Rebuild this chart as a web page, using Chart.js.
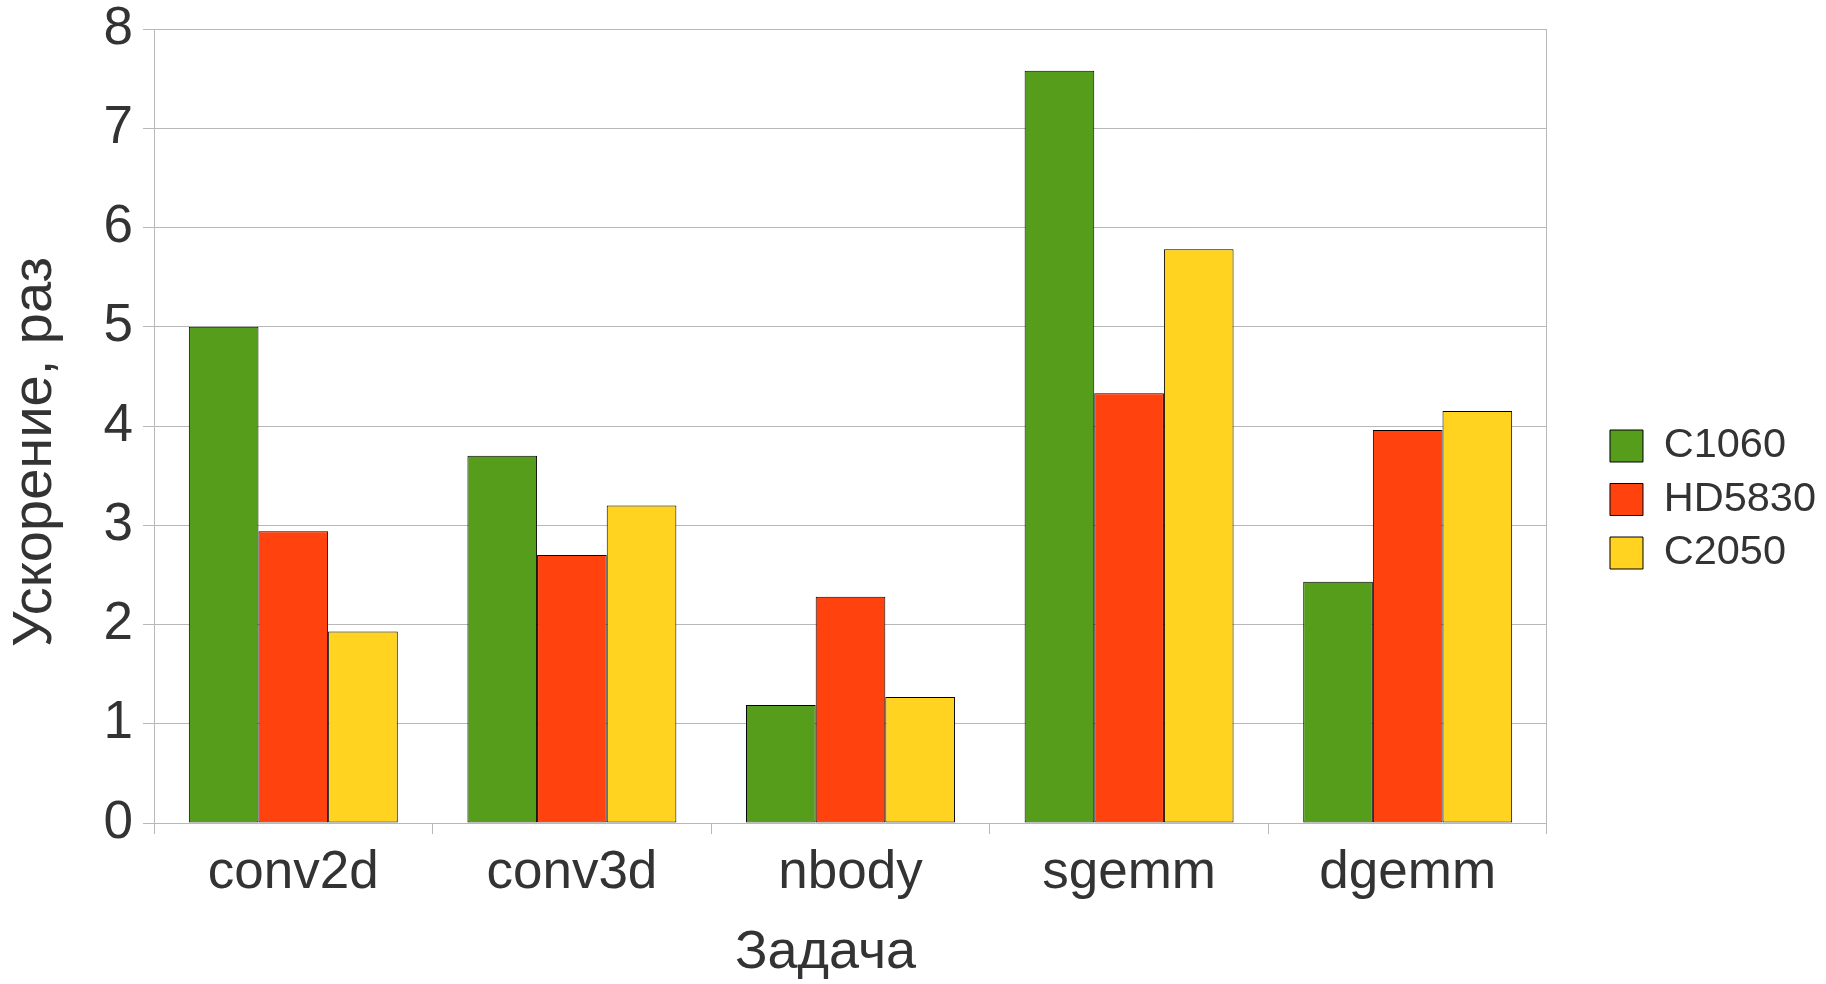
<!DOCTYPE html>
<html><head><meta charset="utf-8">
<style>html,body{margin:0;padding:0;background:#fff;} #wrap{width:1826px;height:984px;position:relative;}</style>
<script src="https://cdn.jsdelivr.net/npm/chart.js@4/dist/chart.umd.min.js"></script>
</head><body><div id="wrap"><canvas id="c"></canvas></div>
<script>
const categories = ['conv2d', 'conv3d', 'nbody', 'sgemm', 'dgemm'];
const seriesNames = ['C1060', 'HD5830', 'C2050'];
const c1060  = [5.00, 3.70, 1.19, 7.58, 2.43];
const hd5830 = [2.94, 2.70, 2.28, 4.33, 3.96];
const c2050  = [1.93, 3.20, 1.27, 5.78, 4.15];
const yTickLabels = ['0', '1', '2', '3', '4', '5', '6', '7', '8'];
const xTitle = 'Задача';
const yTitle = 'Ускорение, раз';

const colors = ['#579D1C', '#FF420E', '#FFD320'];
const textColor = '#333333';
const gridColor = '#b8b8b8';
const family = '"Liberation Sans", Arial, sans-serif';

const seriesValues = [c1060, hd5830, c2050];
const datasets = seriesNames.map((name, i) => ({
  label: name,
  data: seriesValues[i],
  backgroundColor: colors[i],
  borderColor: '#000000',
  borderWidth: 1,
  borderSkipped: false,
  categoryPercentage: 0.75,
  barPercentage: 1.0
}));

// Draws the two axis titles (offset along their axes like the original)
const axisTitles = {
  id: 'axisTitles',
  afterDraw(chart) {
    const { ctx, chartArea: a } = chart;
    ctx.save();
    ctx.fillStyle = textColor;
    ctx.textAlign = 'center';
    ctx.textBaseline = 'middle';
    ctx.font = '54px ' + family;
    ctx.fillText(xTitle, (a.left + a.right) / 2 - 25, a.bottom + 130);
    ctx.font = '56px ' + family;
    ctx.translate(36, (a.top + a.bottom) / 2 + 26);
    ctx.rotate(-Math.PI / 2);
    ctx.fillText(yTitle, 0, 0);
    ctx.restore();
  }
};

new Chart(document.getElementById('c'), {
  type: 'bar',
  data: { labels: categories, datasets },
  plugins: [axisTitles],
  options: {
    responsive: true,
    maintainAspectRatio: false,
    devicePixelRatio: 1,
    animation: false,
    layout: { padding: { top: 29, right: 0, bottom: 14, left: 0 } },
    plugins: {
      tooltip: { enabled: false },
      legend: {
        position: 'right',
        align: 'center',
        labels: {
          boxWidth: 33, boxHeight: 32, padding: 12,
          color: textColor,
          font: { family, size: 41.5 }
        }
      }
    },
    scales: {
      x: {
        offset: true,
        grid: { offset: true, drawOnChartArea: false, drawTicks: true, tickLength: 11, color: gridColor, lineWidth: 1 },
        border: { display: true, color: gridColor, width: 1 },
        ticks: { color: textColor, font: { family, size: 53 }, padding: 8, maxRotation: 0 },
        afterFit: s => { s.height = 147; }
      },
      y: {
        min: 0, max: 8,
        grid: { color: gridColor, lineWidth: 1, tickLength: 11, drawTicks: true },
        border: { display: true, color: gridColor, width: 1 },
        ticks: { stepSize: 1, color: textColor, font: { family, size: 53 }, padding: 10,
                 callback: (v, i) => yTickLabels[i] },
        afterFit: s => { s.width = 154; s.paddingTop = 0; s.paddingBottom = 0; }
      },
      y2: {
        type: 'linear',
        position: 'right',
        min: 0, max: 8,
        grid: { drawOnChartArea: false, drawTicks: false },
        border: { display: true, color: gridColor, width: 1 },
        ticks: { display: false },
        afterFit: s => { s.width = 51; s.paddingTop = 0; s.paddingBottom = 0; }
      }
    }
  }
});
</script></body></html>
